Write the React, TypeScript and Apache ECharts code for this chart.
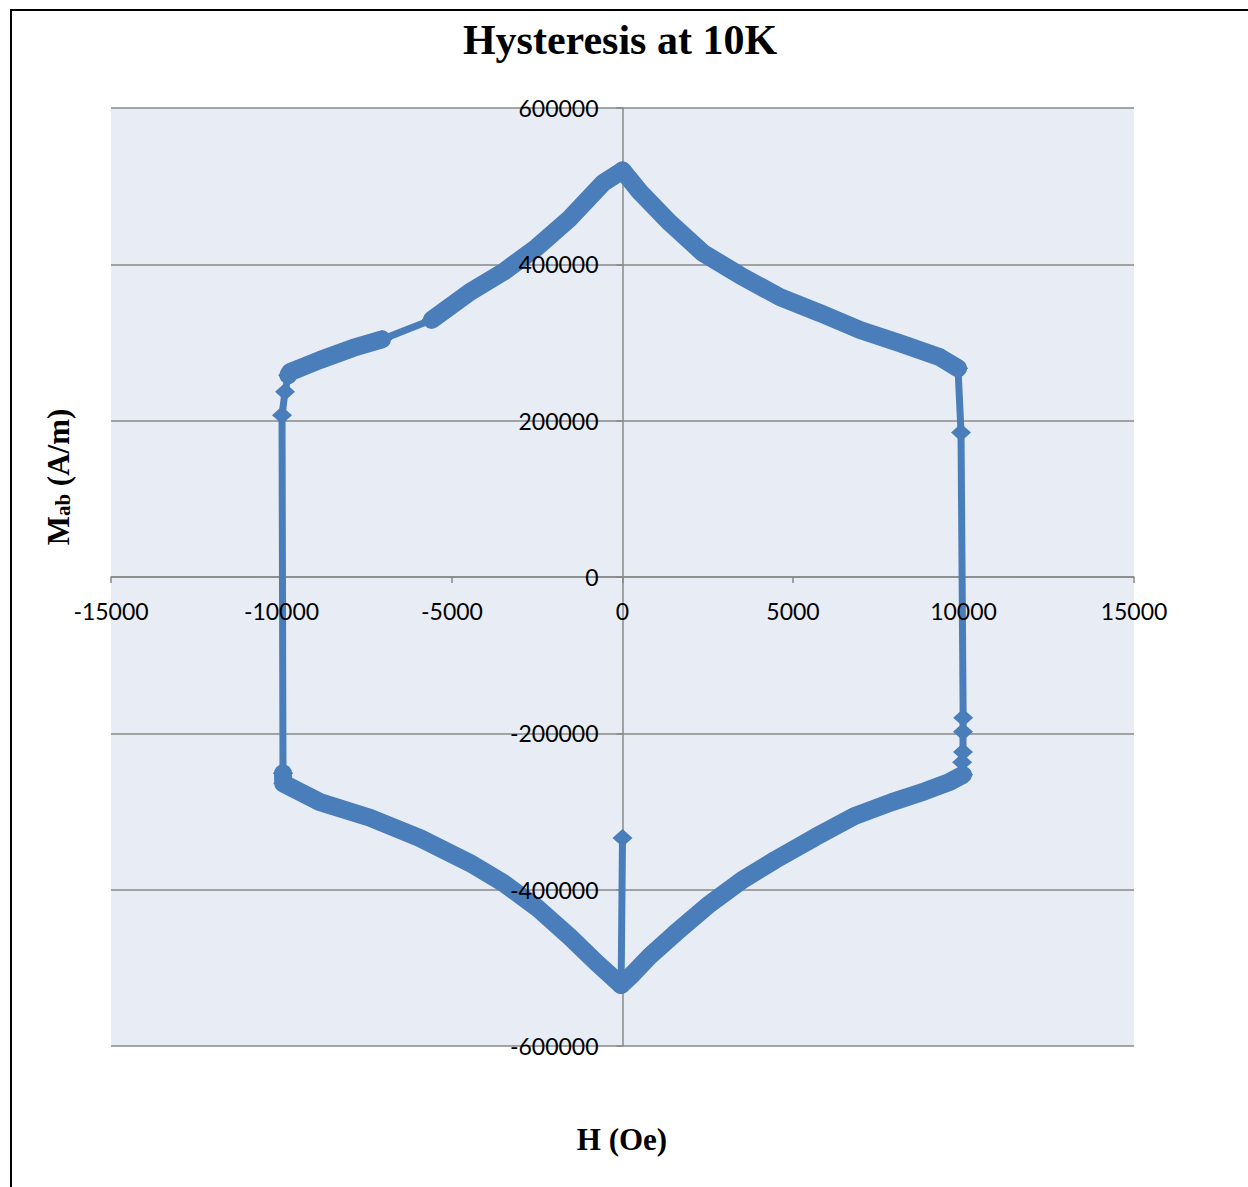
import React, { useEffect, useRef } from "react";
import * as echarts from "echarts";

// ---- data (H in Oe, M in A/m) ----
const xTicks = { min: -15000, max: 15000, interval: 5000 };
const yTicks = { min: -600000, max: 600000, interval: 200000 };

const initialSegment: number[][] = [
  [0, -334000],
  [-40, -522000],
];

const lowerRightBranch: number[][] = [
  [-40, -522000], [250, -510000], [800, -485000], [1540, -456000], [2507, -420000],
  [3504, -388000], [4472, -362000], [5645, -333000], [6800, -306000], [7900, -288000],
  [8871, -274000], [9600, -262000], [9985, -253000],
];

const rightVertical: number[][] = [
  [9985, -253000], [9960, -237000], [9985, -224000], [9985, -198000], [9990, -180000],
  [9927, 185000], [9839, 267000],
];

const upperRightBranch: number[][] = [
  [9839, 267000], [9311, 281000], [8138, 299000], [6965, 316000], [5792, 337700],
  [4619, 358000], [3446, 386000], [2360, 414500], [1393, 453000], [513, 492500], [0, 520000],
];

const upperLeftBranch: number[][] = [
  [0, 520000], [-572, 504000], [-1540, 459000], [-2507, 422000], [-3504, 390000],
  [-4472, 364600], [-5590, 329000],
];

const upperLeftJump: number[][] = [
  [-5590, 329000],
  [-7050, 304000],
];

const upperLeftTail: number[][] = [
  [-7050, 304000], [-7903, 293000], [-8871, 277600], [-9751, 262000], [-9800, 258000],
];

const leftVertical: number[][] = [
  [-9800, 258000], [-9897, 237000], [-9985, 207000], [-9956, -251000],
];

const lowerLeftBranch: number[][] = [
  [-9956, -251000], [-9950, -264000], [-8871, -288000], [-7405, -308000], [-5938, -334000],
  [-4472, -366000], [-3504, -391000], [-2507, -423000], [-1540, -460500], [-748, -494000],
  [-40, -522000],
];

const titleText = "Hysteresis at 10K";
const xName = "H (Oe)";

const COLOR = "#4A7EBB";
const GRID_COLOR = "#888888";
const LABEL_FONT = "Lato";

function lineSeries(data: number[][], width: number) {
  return {
    type: "line",
    data,
    xAxisIndex: 0,
    yAxisIndex: 0,
    symbol: "diamond",
    symbolSize: [20, 18],
    lineStyle: { color: COLOR, width, cap: "round", join: "round" },
    itemStyle: { color: COLOR },
    emphasis: { disabled: true },
    silent: true,
    z: 2,
  };
}

export default function App() {
  const ref = useRef<HTMLDivElement>(null);

  useEffect(() => {
    document.body.style.margin = "0";
    if (!ref.current) return;
    const chart = echarts.init(ref.current, undefined, { renderer: "svg" });

    const W = 1248;
    const H = 1187;
    const gridBox = { left: 111, right: 114, top: 108, bottom: 141 };
    // offsets that move the label-only axes onto the zero lines of the plot
    const yLabelOffset = -((W - gridBox.left - gridBox.right) / 2);
    const xLabelOffset = -((H - gridBox.top - gridBox.bottom) / 2);

    const labelStyle = {
      color: "#000",
      fontFamily: LABEL_FONT,
      fontSize: 23,
      formatter: (v: number) => String(v),
    };

    chart.setOption({
      animation: false,
      grid: [
        { ...gridBox, outerBoundsMode: "none", containLabel: false, show: true, backgroundColor: "#E8EDF5", borderWidth: 0 },
        { ...gridBox, outerBoundsMode: "none", containLabel: false, show: false, z: 10 },
      ],
      xAxis: [
        {
          type: "value",
          gridIndex: 0,
          ...xTicks,
          position: "bottom",
          axisLine: { show: true, onZero: true, lineStyle: { color: GRID_COLOR, width: 1.5 } },
          axisTick: { show: true, length: 6, lineStyle: { color: GRID_COLOR, width: 1.5 } },
          axisLabel: { show: false },
          splitLine: { show: false },
        },
        {
          type: "value",
          gridIndex: 1,
          ...xTicks,
          position: "bottom",
          offset: xLabelOffset,
          z: 10,
          axisLine: { show: false, onZero: false },
          axisTick: { show: false },
          axisLabel: { show: true, margin: 22, ...labelStyle },
          splitLine: { show: false },
        },
      ],
      yAxis: [
        {
          type: "value",
          gridIndex: 0,
          ...yTicks,
          position: "left",
          axisLine: { show: true, onZero: true, lineStyle: { color: GRID_COLOR, width: 1.5 } },
          axisTick: { show: true, length: 6, lineStyle: { color: GRID_COLOR, width: 1.5 } },
          axisLabel: { show: false },
          splitLine: { show: true, lineStyle: { color: GRID_COLOR, width: 1.5 } },
        },
        {
          type: "value",
          gridIndex: 1,
          ...yTicks,
          position: "left",
          offset: yLabelOffset,
          z: 10,
          axisLine: { show: false, onZero: false },
          axisTick: { show: false },
          axisLabel: { show: true, margin: 24, ...labelStyle },
          splitLine: { show: false },
        },
      ],
      series: [
        lineSeries(initialSegment, 7),
        lineSeries(lowerRightBranch, 18),
        lineSeries(rightVertical, 7),
        lineSeries(upperRightBranch, 18),
        lineSeries(upperLeftBranch, 18),
        lineSeries(upperLeftJump, 7),
        lineSeries(upperLeftTail, 18),
        lineSeries(leftVertical, 7),
        lineSeries(lowerLeftBranch, 18),
      ],
      graphic: [
        {
          type: "rect",
          silent: true,
          z: 100,
          shape: { x: 11, y: 10, width: 1600, height: 1600 },
          style: { fill: "none", stroke: "#000", lineWidth: 2 },
        },
        {
          type: "text",
          silent: true,
          x: 620,
          y: 40,
          style: {
            text: titleText,
            fill: "#000",
            font: "bold 42px 'Liberation Serif', 'Times New Roman', serif",
            textAlign: "center",
            textVerticalAlign: "middle",
            align: "center",
            verticalAlign: "middle",
          },
        },
        {
          type: "text",
          silent: true,
          x: 622,
          y: 1139,
          style: {
            text: xName,
            fill: "#000",
            font: "bold 31px 'Liberation Serif', 'Times New Roman', serif",
            textAlign: "center",
            textVerticalAlign: "middle",
            align: "center",
            verticalAlign: "middle",
          },
        },
        {
          type: "text",
          silent: true,
          x: 58,
          y: 477,
          rotation: Math.PI / 2,
          style: {
            text: "{m|M}{s|ab}{m| (A/m)}",
            fill: "#000",
            textAlign: "center",
            textVerticalAlign: "middle",
            align: "center",
            verticalAlign: "middle",
            rich: {
              m: {
                fontFamily: "'Liberation Serif', 'Times New Roman', serif",
                fontWeight: "bold",
                fontSize: 31,
                lineHeight: 31,
                verticalAlign: "top",
                fill: "#000",
                color: "#000",
              },
              s: {
                fontFamily: "'Liberation Serif', 'Times New Roman', serif",
                fontWeight: "bold",
                fontSize: 21,
                lineHeight: 21,
                padding: [14, 0, 0, 0],
                verticalAlign: "bottom",
                fill: "#000",
                color: "#000",
              },
            },
          },
        },
      ],
    });

    return () => chart.dispose();
  }, []);

  return <div ref={ref} style={{ width: 1248, height: 1187 }} />;
}
